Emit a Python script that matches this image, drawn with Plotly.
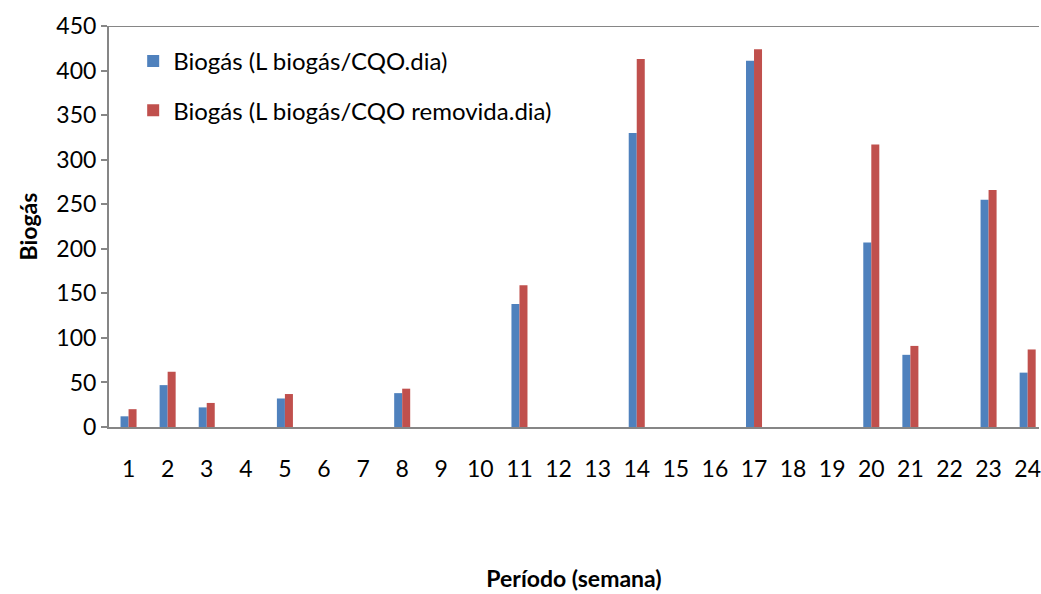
import plotly.graph_objects as go

# Weekly biogas production
semanas = list(range(1, 25))
biogas_cqo = [12, 47, 22, 0, 32, 0, 0, 38, 0, 0, 138, 0, 0, 330, 0, 0, 411, 0, 0, 207, 81, 0, 255, 61]
biogas_cqo_removida = [20, 62, 27, 0, 37, 0, 0, 43, 0, 0, 159, 0, 0, 413, 0, 0, 424, 0, 0, 317, 91, 0, 266, 87]
y_ticks = [0, 50, 100, 150, 200, 250, 300, 350, 400, 450]

FONT = "Lato, Open Sans, sans-serif"
AXIS_GREY = "#868686"

fig = go.Figure()
fig.add_trace(go.Bar(
    x=semanas, y=biogas_cqo, name="Biogás (L biogás/CQO.dia)",
    marker=dict(color="#4F81BD", line=dict(width=0)), legendgroup="a",
))
fig.add_trace(go.Bar(
    x=semanas, y=biogas_cqo_removida, name="Biogás (L biogás/CQO removida.dia)",
    marker=dict(color="#C0504D", line=dict(width=0)), legendgroup="b",
))

fig.update_layout(
    width=1041, height=594,
    margin=dict(l=109, r=0, t=26, b=167),
    paper_bgcolor="white", plot_bgcolor="white",
    barmode="group", bargap=0.59, bargroupgap=0,
    font=dict(family=FONT, size=23, color="black"),
    legend=dict(
        x=0.026, y=0.968, xanchor="left", yanchor="top",
        font=dict(family=FONT, size=24, color="black"),
        bgcolor="rgba(0,0,0,0)", tracegroupgap=15,
        itemwidth=30,
    ),
    xaxis=dict(
        range=[0.5, 24.29], tickmode="array", tickvals=semanas,
        ticktext=[str(s) for s in semanas],
        showline=True, linecolor=AXIS_GREY, linewidth=2,
        ticks="", ticklabelstandoff=20, ticklabeloverflow="allow",
        showgrid=False, zeroline=False,
        tickfont=dict(family=FONT, size=23),
        title=dict(text="<b>Período (semana)</b>", font=dict(family=FONT, size=23), standoff=90),
    ),
    yaxis=dict(
        range=[0, 450], tickmode="array", tickvals=y_ticks,
        showline=True, linecolor=AXIS_GREY, linewidth=2,
        ticks="outside", ticklen=6, tickcolor=AXIS_GREY, tickwidth=2,
        showgrid=False, zeroline=False,
        tickfont=dict(family=FONT, size=23),
        title=dict(text="<b>Biogás</b>", font=dict(family=FONT, size=23), standoff=12),
    ),
    shapes=[dict(type="line", xref="paper", yref="y", x0=0, x1=1, y0=450, y1=450,
                 line=dict(color=AXIS_GREY, width=2))],
)

fig.write_html("out.html")
